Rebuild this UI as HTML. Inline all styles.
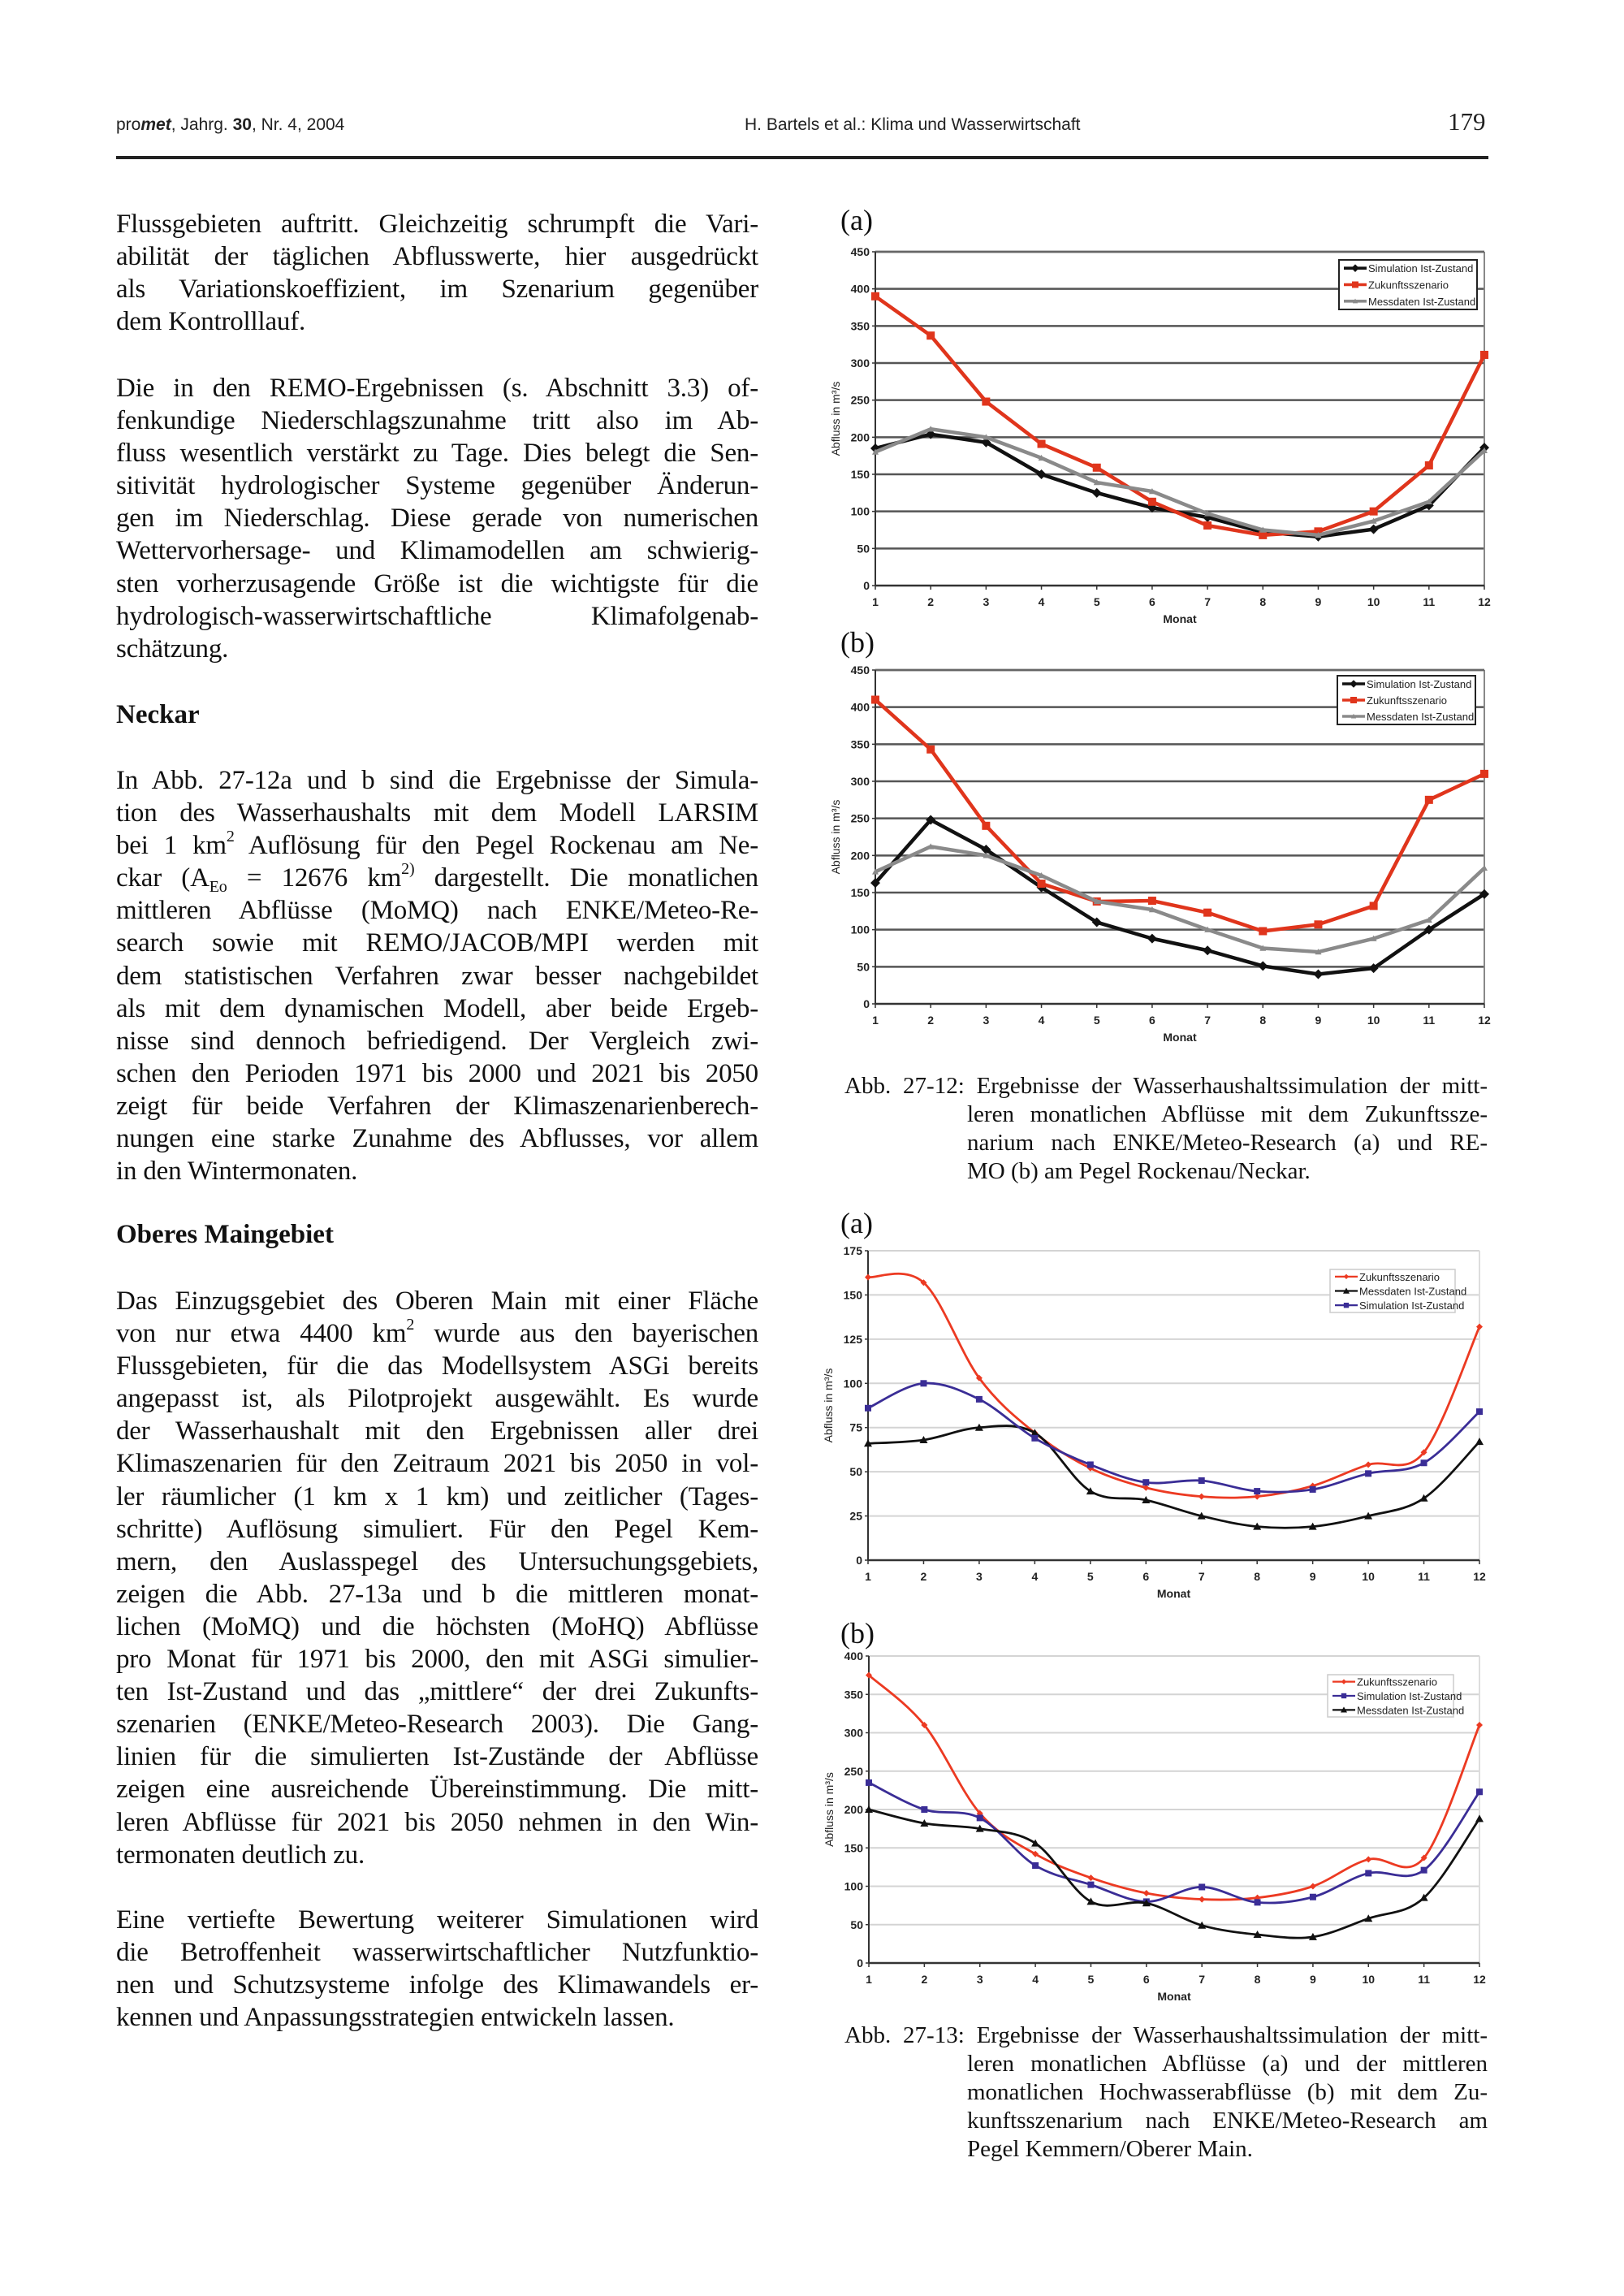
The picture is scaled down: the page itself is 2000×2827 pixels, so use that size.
<!DOCTYPE html>
<html><head><meta charset="utf-8">
<style>
body{margin:0;background:#fff;}
#pg{position:relative;width:2000px;height:2827px;overflow:hidden;background:#fff;}
.t{position:absolute;left:143px;width:791px;font-family:"Liberation Serif",serif;font-size:33px;letter-spacing:-0.2px;white-space:nowrap;color:#111;}
.l{height:40.1px;line-height:40.1px;text-align:justify;text-align-last:justify;white-space:normal;overflow:visible;}
.l.e{text-align-last:left;}
sup,sub{font-size:20px;line-height:0;vertical-align:baseline;position:relative;}
sup{top:-0.75em;} sub{top:0.35em;}
.h{position:absolute;left:143px;font-family:"Liberation Serif",serif;font-weight:bold;font-size:33px;color:#111;}
.cap{position:absolute;left:1040px;width:792px;font-family:"Liberation Serif",serif;font-size:29px;color:#111;}
.cap div{height:35px;line-height:35px;text-align:justify;text-align-last:justify;}
.cap .ind{padding-left:151px;}
.cap .e{text-align-last:left;}
.lab{position:absolute;font-family:"Liberation Serif",serif;font-size:36px;color:#111;}
</style></head><body><div id="pg">
<div style="position:absolute;left:143px;top:142px;font-family:'Liberation Sans',sans-serif;font-size:21px;color:#222;">pro<b><i>met</i></b>, Jahrg. <b>30</b>, Nr. 4, 2004</div>
<div style="position:absolute;left:917px;top:142px;font-family:'Liberation Sans',sans-serif;font-size:21px;color:#222;">H. Bartels et al.: Klima und Wasserwirtschaft</div>
<div style="position:absolute;left:1783px;top:132px;font-family:'Liberation Serif',serif;font-size:31px;color:#222;">179</div>
<div style="position:absolute;left:143px;top:192px;width:1690px;height:4px;background:#222;"></div>

<div class="t" style="top:256px">
<div class="l">Flussgebieten auftritt. Gleichzeitig schrumpft die Vari-</div>
<div class="l">abilität der täglichen Abflusswerte, hier ausgedrückt</div>
<div class="l">als Variationskoeffizient, im Szenarium gegenüber</div>
<div class="l e">dem Kontrolllauf.</div>
</div>
<div class="t" style="top:458px">
<div class="l">Die in den REMO-Ergebnissen (s. Abschnitt 3.3) of-</div>
<div class="l">fenkundige Niederschlagszunahme tritt also im Ab-</div>
<div class="l">fluss wesentlich verstärkt zu Tage. Dies belegt die Sen-</div>
<div class="l">sitivität hydrologischer Systeme gegenüber Änderun-</div>
<div class="l">gen im Niederschlag. Diese gerade von numerischen</div>
<div class="l">Wettervorhersage- und Klimamodellen am schwierig-</div>
<div class="l">sten vorherzusagende Größe ist die wichtigste für die</div>
<div class="l">hydrologisch-wasserwirtschaftliche Klimafolgenab-</div>
<div class="l e">schätzung.</div>
</div>
<div class="h" style="top:862px">Neckar</div>
<div class="t" style="top:941px">
<div class="l">In Abb. 27-12a und b sind die Ergebnisse der Simula-</div>
<div class="l">tion des Wasserhaushalts mit dem Modell LARSIM</div>
<div class="l">bei 1 km<sup>2</sup> Auflösung für den Pegel Rockenau am Ne-</div>
<div class="l">ckar (A<sub>Eo</sub> = 12676 km<sup>2)</sup> dargestellt. Die monatlichen</div>
<div class="l">mittleren Abflüsse (MoMQ) nach ENKE/Meteo-Re-</div>
<div class="l">search sowie mit REMO/JACOB/MPI werden mit</div>
<div class="l">dem statistischen Verfahren zwar besser nachgebildet</div>
<div class="l">als mit dem dynamischen Modell, aber beide Ergeb-</div>
<div class="l">nisse sind dennoch befriedigend. Der Vergleich zwi-</div>
<div class="l">schen den Perioden 1971 bis 2000 und 2021 bis 2050</div>
<div class="l">zeigt für beide Verfahren der Klimaszenarienberech-</div>
<div class="l">nungen eine starke Zunahme des Abflusses, vor allem</div>
<div class="l e">in den Wintermonaten.</div>
</div>
<div class="h" style="top:1502px">Oberes Maingebiet</div>
<div class="t" style="top:1582px">
<div class="l">Das Einzugsgebiet des Oberen Main mit einer Fläche</div>
<div class="l">von nur etwa 4400 km<sup>2</sup> wurde aus den bayerischen</div>
<div class="l">Flussgebieten, für die das Modellsystem ASGi bereits</div>
<div class="l">angepasst ist, als Pilotprojekt ausgewählt. Es wurde</div>
<div class="l">der Wasserhaushalt mit den Ergebnissen aller drei</div>
<div class="l">Klimaszenarien für den Zeitraum 2021 bis 2050 in vol-</div>
<div class="l">ler räumlicher (1 km x 1 km) und zeitlicher (Tages-</div>
<div class="l">schritte) Auflösung simuliert. Für den Pegel Kem-</div>
<div class="l">mern, den Auslasspegel des Untersuchungsgebiets,</div>
<div class="l">zeigen die Abb. 27-13a und b die mittleren monat-</div>
<div class="l">lichen (MoMQ) und die höchsten (MoHQ) Abflüsse</div>
<div class="l">pro Monat für 1971 bis 2000, den mit ASGi simulier-</div>
<div class="l">ten Ist-Zustand und das „mittlere“ der drei Zukunfts-</div>
<div class="l">szenarien (ENKE/Meteo-Research 2003). Die Gang-</div>
<div class="l">linien für die simulierten Ist-Zustände der Abflüsse</div>
<div class="l">zeigen eine ausreichende Übereinstimmung. Die mitt-</div>
<div class="l">leren Abflüsse für 2021 bis 2050 nehmen in den Win-</div>
<div class="l e">termonaten deutlich zu.</div>
</div>
<div class="t" style="top:2344px">
<div class="l">Eine vertiefte Bewertung weiterer Simulationen wird</div>
<div class="l">die Betroffenheit wasserwirtschaftlicher Nutzfunktio-</div>
<div class="l">nen und Schutzsysteme infolge des Klimawandels er-</div>
<div class="l e">kennen und Anpassungsstrategien entwickeln lassen.</div>
</div>

<div class="cap" style="top:1320px">
<div>Abb. 27-12: Ergebnisse der Wasserhaushaltssimulation der mitt-</div>
<div class="ind">leren monatlichen Abflüsse mit dem Zukunftssze-</div>
<div class="ind">narium nach ENKE/Meteo-Research (a) und RE-</div>
<div class="ind e">MO (b) am Pegel Rockenau/Neckar.</div>
</div>
<div class="cap" style="top:2489px">
<div>Abb. 27-13: Ergebnisse der Wasserhaushaltssimulation der mitt-</div>
<div class="ind">leren monatlichen Abflüsse (a) und der mittleren</div>
<div class="ind">monatlichen Hochwasserabflüsse (b) mit dem Zu-</div>
<div class="ind">kunftsszenarium nach ENKE/Meteo-Research am</div>
<div class="ind e">Pegel Kemmern/Oberer Main.</div>
</div>

<div class="lab" style="left:1035px;top:250px">(a)</div>
<div class="lab" style="left:1035px;top:770px">(b)</div>
<div class="lab" style="left:1035px;top:1485px">(a)</div>
<div class="lab" style="left:1035px;top:1990px">(b)</div>

<svg id="sv" width="2000" height="2827" style="position:absolute;left:0;top:0" xmlns="http://www.w3.org/2000/svg"></svg>
</div>
<script>
var sv=document.getElementById('sv');var NS='http://www.w3.org/2000/svg';
function el(n,a,t){var e=document.createElementNS(NS,n);for(var k in a)e.setAttribute(k,a[k]);if(t!==undefined)e.textContent=t;sv.appendChild(e);return e;}
function marker(type,x,y,c,s){
 if(type=='d')el('path',{d:'M'+x+' '+(y-s)+'L'+(x+s)+' '+y+'L'+x+' '+(y+s)+'L'+(x-s)+' '+y+'Z',fill:c});
 else if(type=='s')el('rect',{x:x-s,y:y-s,width:2*s,height:2*s,fill:c});
 else if(type=='t')el('path',{d:'M'+x+' '+(y-s)+'L'+(x+s)+' '+(y+s*0.8)+'L'+(x-s)+' '+(y+s*0.8)+'Z',fill:c});
}
function chart(o){
 var X0=o.x0,X1=o.x1,Y0=o.y0,Y1=o.y1;
 var fx=function(i){return X0+(X1-X0)*i/11;},fy=function(v){return Y0-(Y0-Y1)*v/o.max;};
 for(var v=0;v<=o.max;v+=o.step){var y=fy(v);
  if(v>0)el('line',{x1:X0,y1:y,x2:X1,y2:y,stroke:o.grid,'stroke-width':o.gw});
  el('text',{x:X0-7,y:y+5,'text-anchor':'end','font-family':'Liberation Sans,sans-serif','font-size':14,'font-weight':'bold',fill:'#222'},String(v));
  el('line',{x1:X0-4,y1:y,x2:X0,y2:y,stroke:'#333','stroke-width':1.5});}
 el('line',{x1:X1,y1:Y1,x2:X1,y2:Y0,stroke:o.old?'#888':'#ddd','stroke-width':2});
 if(o.old)el('line',{x1:X0,y1:Y1,x2:X1,y2:Y1,stroke:'#666','stroke-width':2.5});
 el('line',{x1:X0,y1:Y1,x2:X0,y2:Y0,stroke:'#333','stroke-width':2});
 el('line',{x1:X0,y1:Y0,x2:X1,y2:Y0,stroke:'#333','stroke-width':2.5});
 for(var i=0;i<12;i++){el('line',{x1:fx(i),y1:Y0,x2:fx(i),y2:Y0+5,stroke:'#333','stroke-width':1.5});
  el('text',{x:fx(i),y:Y0+25,'text-anchor':'middle','font-family':'Liberation Sans,sans-serif','font-size':14,'font-weight':'bold',fill:'#222'},String(i+1));}
 el('text',{x:(X0+X1)/2,y:Y0+46,'text-anchor':'middle','font-family':'Liberation Sans,sans-serif','font-size':14,'font-weight':'bold',fill:'#222'},'Monat');
 var cy=(Y0+Y1)/2;el('text',{x:0,y:0,transform:'translate('+(X0-44)+','+cy+') rotate(-90)','text-anchor':'middle','font-family':'Liberation Sans,sans-serif','font-size':14,fill:'#222'},'Abfluss in m³/s');
 o.series.forEach(function(s){
  var p=s.d.map(function(v,i){return [fx(i),fy(v)];});var d='M'+p[0][0]+' '+p[0][1];
  for(var i=0;i<p.length-1;i++){
   if(o.smooth){var a=p[i-1]||p[i],b=p[i],c=p[i+1],e=p[i+2]||p[i+1];
    d+='C'+(b[0]+(c[0]-a[0])/6)+' '+(b[1]+(c[1]-a[1])/6)+' '+(c[0]-(e[0]-b[0])/6)+' '+(c[1]-(e[1]-b[1])/6)+' '+c[0]+' '+c[1];}
   else d+='L'+p[i+1][0]+' '+p[i+1][1];}
  el('path',{d:d,fill:'none',stroke:s.c,'stroke-width':s.w,'stroke-linejoin':'round'});
  p.forEach(function(q){marker(s.m,q[0],q[1],s.c,s.ms);});
 });
 var L=o.leg;el('rect',{x:L[0],y:L[1],width:L[2]-L[0],height:L[3]-L[1],fill:'#fff',stroke:o.old?'#222':'#ccc','stroke-width':o.old?2:1.5});
 var n=o.series.length,hh=(L[3]-L[1])/n;
 o.legOrder.forEach(function(k,j){var s=o.series[k];var y=L[1]+hh*(j+0.5);
  el('line',{x1:L[0]+6,y1:y,x2:L[0]+34,y2:y,stroke:s.c,'stroke-width':s.w*0.8});marker(s.m,L[0]+20,y,s.c,s.ms*0.8);
  el('text',{x:L[0]+36,y:y+5,'font-family':'Liberation Sans,sans-serif','font-size':13,fill:'#222'},s.n);});
}
var RED='#e0351c',BLK='#111',GR='#8a8a8a',BLU='#3a2d96',RED2='#ec3a22';
chart({x0:1078,x1:1828,y0:721,y1:310,max:450,step:50,grid:'#555',gw:2.5,old:true,smooth:false,leg:[1649,320,1819,381],legOrder:[0,1,2],
 series:[{n:'Simulation Ist-Zustand',c:BLK,w:4.5,m:'d',ms:6,d:[185,204,193,150,125,105,92,72,66,76,108,186]},
 {n:'Zukunftsszenario',c:RED,w:4.5,m:'s',ms:5,d:[390,337,248,191,159,113,81,68,73,100,162,311]},
 {n:'Messdaten Ist-Zustand',c:GR,w:4.5,m:'t',ms:4,d:[180,211,200,172,139,127,97,75,68,87,113,182]}]});
chart({x0:1078,x1:1828,y0:1236,y1:825,max:450,step:50,grid:'#555',gw:2.5,old:true,smooth:false,leg:[1647,832,1817,892],legOrder:[0,1,2],
 series:[{n:'Simulation Ist-Zustand',c:BLK,w:4.5,m:'d',ms:6,d:[163,248,208,157,110,88,72,51,40,48,100,148]},
 {n:'Zukunftsszenario',c:RED,w:4.5,m:'s',ms:5,d:[410,343,240,162,138,139,123,98,107,132,275,310]},
 {n:'Messdaten Ist-Zustand',c:GR,w:4.5,m:'t',ms:4,d:[178,212,200,173,138,127,100,75,70,88,113,183]}]});
chart({x0:1069,x1:1822,y0:1921,y1:1540,max:175,step:25,grid:'#d4d4d4',gw:2,old:false,smooth:true,leg:[1638,1563,1792,1616],legOrder:[0,1,2],
 series:[{n:'Zukunftsszenario',c:RED2,w:2.8,m:'d',ms:4,d:[160,157,103,72,52,41,36,36,42,54,61,132]},
 {n:'Messdaten Ist-Zustand',c:BLK,w:2.8,m:'t',ms:5,d:[66,68,75,72,39,34,25,19,19,25,35,67]},
 {n:'Simulation Ist-Zustand',c:BLU,w:2.8,m:'s',ms:4,d:[86,100,91,69,54,44,45,39,40,49,55,84]}]});
chart({x0:1070,x1:1822,y0:2417,y1:2039,max:400,step:50,grid:'#d4d4d4',gw:2,old:false,smooth:true,leg:[1635,2062,1790,2114],legOrder:[0,1,2],
 series:[{n:'Zukunftsszenario',c:RED2,w:2.8,m:'d',ms:4,d:[375,310,195,142,111,91,83,85,100,135,137,310]},
 {n:'Simulation Ist-Zustand',c:BLU,w:2.8,m:'s',ms:4,d:[235,200,189,127,102,80,99,79,86,117,121,223]},
 {n:'Messdaten Ist-Zustand',c:BLK,w:2.8,m:'t',ms:5,d:[200,182,175,156,80,78,49,37,34,58,85,188]}]});
</script>
</body></html>
